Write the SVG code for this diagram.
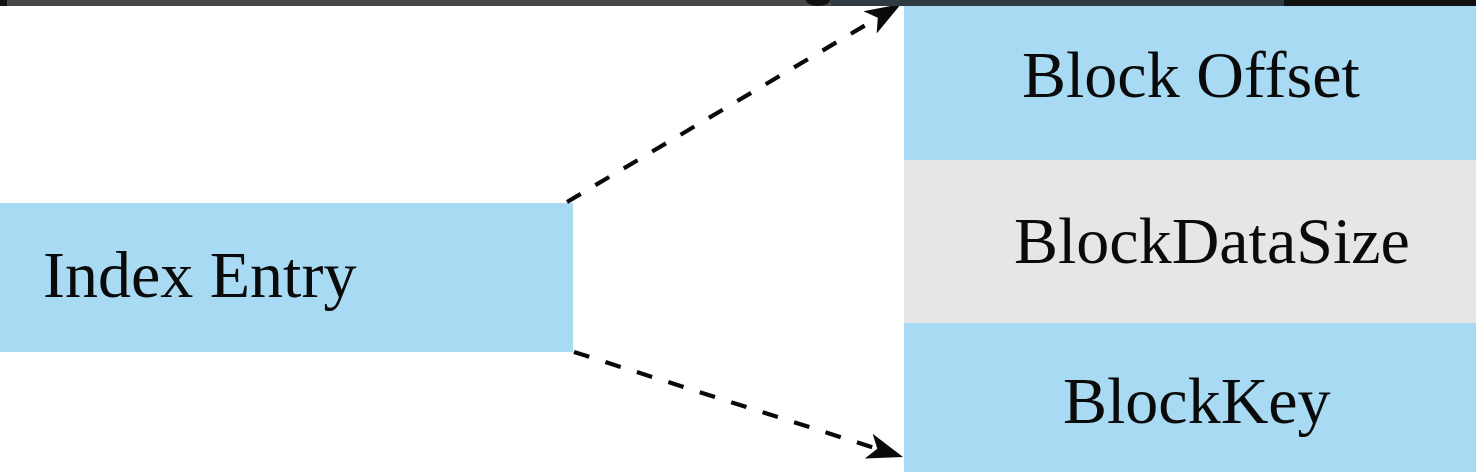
<svg xmlns="http://www.w3.org/2000/svg" width="1476" height="472" viewBox="0 0 1476 472">
  <defs>
    <style>
      .blue { fill: #a8dbf3; }
      .gray { fill: #e6e6e6; }
      .label { font-family: "Liberation Serif", "Times New Roman", serif; font-size: 66px; fill: #0a0a0a; }
      .conn { fill: none; stroke: #0a0a0a; stroke-width: 4.2; stroke-dasharray: 16 17; }
    </style>
    <marker id="arrow" markerUnits="userSpaceOnUse" markerWidth="40" markerHeight="30" refX="9" refY="13" orient="auto" viewBox="0 0 40 26">
      <path d="M36,13 L0,0 L9,13 L0,26 Z" fill="#0a0a0a"/>
    </marker>
  </defs>
  <rect x="0" y="0" width="1476" height="472" fill="#ffffff"/>

  <g id="index-entry">
    <rect class="blue" x="0" y="203" width="573" height="149"/>
    <text class="label" x="43" y="297">Index Entry</text>
  </g>

  <g id="block-offset">
    <rect class="blue" x="904" y="0" width="572" height="160"/>
    <text class="label" x="1022" y="97">Block Offset</text>
  </g>

  <g id="block-data-size">
    <rect class="gray" x="904" y="160" width="572" height="163"/>
    <text class="label" x="1014" y="263">BlockDataSize</text>
  </g>

  <g id="block-key">
    <rect class="blue" x="904" y="323" width="572" height="149"/>
    <text class="label" x="1063" y="423">BlockKey</text>
  </g>

  <g id="connectors">
    <line class="conn" x1="567" y1="202" x2="877.8" y2="17.8" marker-end="url(#arrow)"/>
    <line class="conn" x1="574" y1="352" x2="877.3" y2="448.8" marker-end="url(#arrow)"/>
  </g>

  <g id="top-bar">
    <rect x="0" y="0" width="7" height="6" fill="#141414"/>
    <rect x="7" y="0" width="824" height="6" fill="#484848"/>
    <rect x="831" y="0" width="453" height="6" fill="#2f3a42"/>
    <rect x="1284" y="0" width="192" height="6" fill="#111111"/>
    <ellipse cx="818" cy="0" rx="12" ry="6" fill="#111111"/>
  </g>
</svg>
